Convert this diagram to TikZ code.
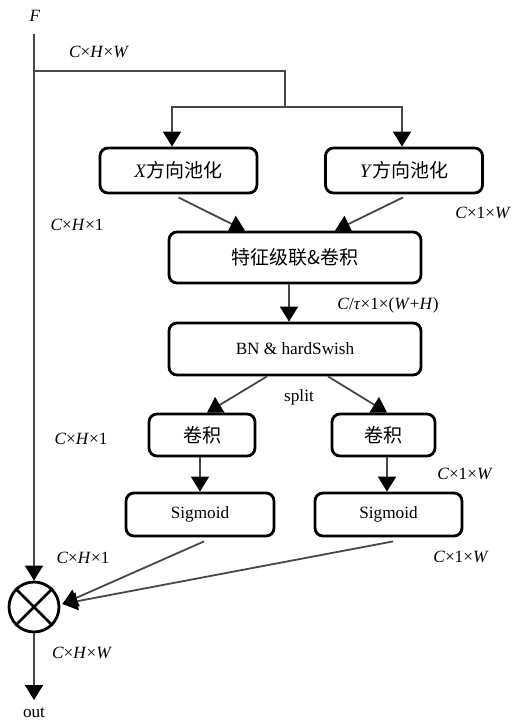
\documentclass[tikz,border=0pt]{standalone}
\usepackage{fontspec}
\setmainfont{Liberation Serif}
\newfontfamily\cjk{Noto Sans CJK SC}
\usetikzlibrary{arrows.meta,calc}

\begin{document}
\begin{tikzpicture}[x=0.5pt,y=-0.5pt,
    box/.style={draw, line width=1.4pt, rounded corners=4pt, inner sep=0pt,
      font=\fontsize{9.5}{11}\selectfont},
    wire/.style={draw=black!72, line width=0.9pt},
    arr/.style={wire, -{Triangle[length=7.5pt,width=9pt,color=black]}},
    lbl/.style={font=\fontsize{8.6}{10}\selectfont, inner sep=0pt}]
  \useasboundingbox (0,0) rectangle (515,724);

  % boxes
  \node[box, minimum width=78.5pt, minimum height=22.5pt] (xpool) at (178.5,170.5) {\textit{X}\cjk 方向池化};
  \node[box, minimum width=78.5pt, minimum height=22.5pt] (ypool) at (404,170.5) {\textit{Y}\cjk 方向池化};
  \node[box, minimum width=126pt, minimum height=25.5pt] (concat) at (295,257.5) {\cjk 特征级联\&卷积};
  \node[box, minimum width=126pt, minimum height=26pt, font=\fontsize{8.6}{10}\selectfont] (bn) at (295,349) {BN \& hardSwish};
  \node[box, minimum width=53pt, minimum height=21pt] (conv1) at (202,435) {\cjk 卷积};
  \node[box, minimum width=51.5pt, minimum height=21pt] (conv2) at (383.5,435) {\cjk 卷积};
  \node[box, minimum width=74pt, minimum height=21.5pt, font=\fontsize{8.6}{10}\selectfont] (sig1) at (200,514.5) {Sigmoid};
  \node[box, minimum width=73.5pt, minimum height=21.5pt, font=\fontsize{8.6}{10}\selectfont] (sig2) at (388.5,514.5) {Sigmoid};
  \node[draw, circle, line width=1.4pt, minimum size=25pt, inner sep=0pt] (mul) at (34,607) {};
  \draw[line width=1.4pt] (mul.north west) -- (mul.south east) (mul.north east) -- (mul.south west);

  % labels
  \node[lbl] (F) at (35,16) {\textit{F}};
  \node[lbl] (out) at (34,713) {out};
  \node[lbl] (dimtop) at (99,52) {\textit{C}×\textit{H}×\textit{W}};
  \node[lbl] (dimx) at (77,225) {\textit{C}×\textit{H}×1};
  \node[lbl] (dimy) at (483,213) {\textit{C}×1×\textit{W}};
  \node[lbl] (dimcat) at (388,305) {\textit{C}/\textit{τ}×1×(\textit{W}+\textit{H})};
  \node[lbl] (splitlbl) at (299,397) {split};
  \node[lbl] (dimc1) at (81,439) {\textit{C}×\textit{H}×1};
  \node[lbl] (dimc2) at (465,474) {\textit{C}×1×\textit{W}};
  \node[lbl] (dims1) at (83,558) {\textit{C}×\textit{H}×1};
  \node[lbl] (dims2) at (461,557) {\textit{C}×1×\textit{W}};
  \node[lbl] (dimout) at (82,653) {\textit{C}×\textit{H}×\textit{W}};

  % connectors
  \coordinate (start) at (34,34);
  \coordinate (fork) at (34,71);
  \coordinate (split) at (285,107);
  \coordinate (outend) at (34,700);
  \draw[arr] (start) -- (mul.north);
  \draw[wire] (fork) -| (split);
  \draw[arr] (split) -| ($(xpool.north)+(-6.5,0)$);
  \draw[arr] (split) -| ($(ypool.north)+(-2,0)$);
  \draw[arr] ($(xpool.south)+(0,3)$) -- ($(concat.north)+(-50,0)$);
  \draw[arr] ($(ypool.south)+(-1,3)$) -- ($(concat.north)+(40,0)$);
  \draw[arr] ($(concat.south)+(-6,0)$) -- ($(bn.north)+(-6,0)$);
  \draw[arr] ($(bn.south)+(-28,0)$) -- ($(conv1.north)+(5,0)$);
  \draw[arr] ($(bn.south)+(33,0)$) -- ($(conv2.north)+(3.5,0)$);
  \draw[arr] ($(conv1.south)+(-2,0)$) -- (sig1.north);
  \draw[arr] ($(conv2.south)+(3.5,0)$) -- ($(sig2.north)+(-1.5,0)$);
  \draw[arr] ($(sig1.south)+(4,4)$) -- ($(mul.east)+(2,-3)$);
  \draw[arr] ($(sig2.south)+(4.5,4)$) -- ($(mul.east)+(2,-3)$);
  \draw[arr] (mul.south) -- (outend);
\end{tikzpicture}
\end{document}
